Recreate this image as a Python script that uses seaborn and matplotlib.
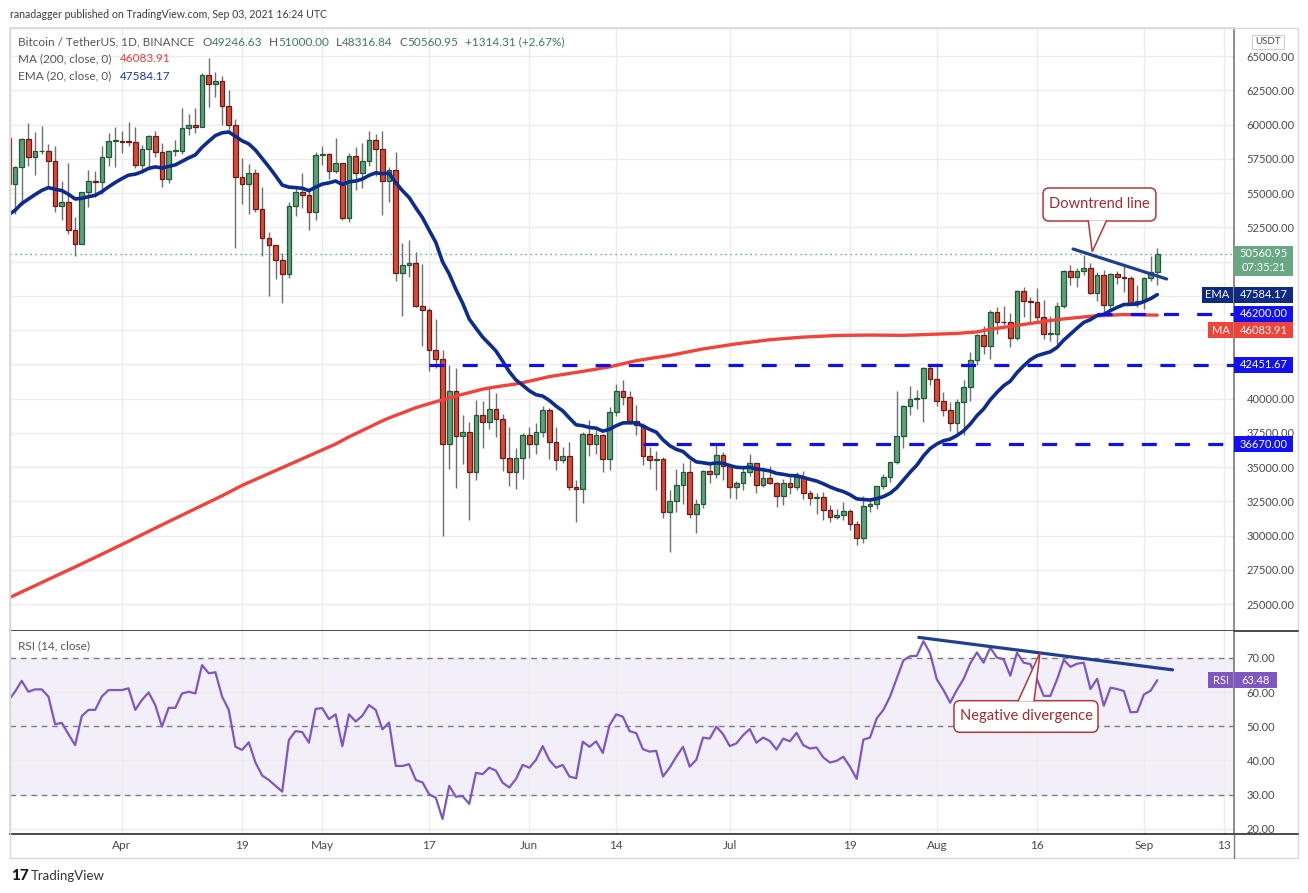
import numpy as np
import pandas as pd
import matplotlib
matplotlib.use('Agg')
import matplotlib.pyplot as plt
import seaborn as sns
from matplotlib.patches import Rectangle, FancyBboxPatch, Polygon
from matplotlib.lines import Line2D

# daily BTC/USDT candles, 2021-03-15 .. 2021-09-03
opens = [
    59000, 55630, 56900, 58910, 57650, 58030, 58100, 57350, 54080, 54340, 52300, 51300, 55070, 55860, 55780, 57630, 58770,
    58800, 58740, 58720, 57060, 58200, 59130, 57990, 56000, 58090, 58090, 59770, 59980, 59840, 63580, 62960, 63160, 61330, 60000, 56150, 55660, 56470, 53800, 51700, 51190, 50090, 49070, 54020, 55040, 54880, 53580,
    57750, 57830, 56580, 57170, 53200, 57690, 56440, 57350, 58860, 58240, 55850, 56700, 49150, 49720, 49880, 46760, 46430, 43540, 42880, 36670, 40560, 37290, 37530, 34650, 38800, 38320, 39240, 38530, 35660, 34620, 35650,
    37340, 36690, 37560, 39190, 36850, 35520, 35800, 33560, 33400, 37390, 36690, 37340, 35550, 39020, 40520, 40140, 38350, 38090, 35820, 35480, 35600, 31680, 32510, 33690, 34660, 31590, 32280, 34700, 34490, 35910,
    35040, 33510, 33800, 34670, 35290, 33690, 34220, 33860, 32880, 33810, 33510, 34260, 33090, 32730, 32820, 31880, 31380, 31520, 31780, 30840, 29790, 32140, 32290, 33580, 34290, 35380, 37270, 39470, 40000, 40020, 42230,
    41460, 39850, 39150, 38210, 39720, 40870, 42840, 44610, 43830, 46290, 45600, 45550, 44430, 47830, 47110, 47030, 45940, 44690, 44720, 46760, 49340, 48870, 49290, 49500, 47690, 48990, 46840, 49070, 48900, 48810, 46990,
    47130, 48810, 49246.63]
highs = [
    61000, 56940, 58980, 60100, 59450, 59880, 58600, 58430, 55840, 57200, 53240, 55100, 56700, 56580, 58400, 59370, 59800,
    59490, 60200, 59790, 58500, 59250, 59500, 58650, 58150, 58870, 61220, 60790, 61200, 63780, 64854, 63800, 63520, 62500, 60400, 57530, 57100, 56760, 55450, 52130, 51200, 50590, 54360, 55470, 56430, 55200, 58000,
    58450, 57920, 58980, 57200, 57940, 58360, 58650, 59500, 59300, 59520, 56870, 58000, 51370, 51560, 50700, 49800, 46640, 45800, 43550, 42450, 42200, 38830, 38270, 39920, 39800, 40840, 40410, 38880, 37900, 36400, 37500,
    37890, 38230, 39480, 39290, 37920, 36480, 36790, 34070, 37530, 38400, 37690, 37440, 39380, 41060, 41330, 40530, 39560, 38200, 36460, 36140, 35750, 33300, 34880, 35300, 35500, 32700, 34750, 35300, 36600, 36100,
    35050, 33970, 34950, 35950, 35300, 35000, 35060, 33910, 34100, 34250, 34600, 34680, 33340, 33120, 33190, 32250, 31950, 32440, 31900, 31060, 32860, 32580, 33650, 34500, 35400, 40550, 39540, 40900, 40640, 42320, 42410,
    42600, 40450, 39780, 39970, 41350, 43390, 44700, 45310, 46450, 46650, 46740, 46220, 47890, 48150, 47390, 48050, 47160, 46000, 47050, 49380, 49760, 49520, 50500, 49880, 49260, 49370, 49190, 49310, 49700, 48910, 48250,
    48900, 50420, 51000.00]
lows = [
    55000, 53500, 54120, 57000, 56280, 57820, 55450, 53650, 53000, 52000, 50430, 51250, 53950, 54690, 54900, 57000, 56870,
    57930, 58450, 56860, 56480, 56800, 57600, 55470, 55700, 57700, 57880, 59250, 59400, 59820, 61300, 62020, 60000, 59580, 51000, 54220, 53450, 53600, 50400, 47500, 48750, 47000, 48800, 53320, 53880, 52330, 53010,
    57050, 56030, 56480, 53050, 52900, 55200, 55380, 56980, 56230, 53400, 54370, 48600, 46000, 48850, 46650, 43830, 42000, 42250, 30000, 34850, 33490, 35200, 31110, 34030, 36420, 37800, 37200, 34700, 33630, 33380, 34150,
    35660, 35920, 37170, 35570, 34800, 35260, 33340, 31000, 32400, 35800, 35940, 34600, 34760, 38730, 39510, 38120, 37370, 35130, 34820, 33350, 31250, 28800, 31690, 32300, 31280, 30150, 32000, 33860, 34230, 34020,
    32710, 32700, 33320, 34360, 33130, 33530, 33770, 32080, 32260, 33000, 33330, 32660, 32200, 31600, 31130, 31020, 31170, 31100, 30410, 29280, 29480, 31710, 31950, 33400, 33880, 35210, 36400, 38800, 39200, 38310, 41000,
    39420, 38690, 37640, 37510, 37330, 39850, 42450, 43260, 42850, 44690, 45350, 43770, 44240, 45960, 45520, 45660, 44380, 44210, 43950, 46630, 48290, 48110, 49050, 47600, 47110, 46320, 46370, 48370, 47800, 46860, 46700,
    46540, 48580, 48316.84]
closes = [
    55630, 56900, 58910, 57650, 58030, 58100, 57350, 54080, 54340, 52300, 51300, 55070, 55860, 55780, 57630, 58770, 58800,
    58740, 58720, 57060, 58200, 59130, 57990, 56000, 58090, 58090, 59770, 59980, 59840, 63580, 62960, 63160, 61330, 60000, 56150, 55660, 56470, 53800, 51700, 51190, 50090, 49070, 54020, 55040, 54880, 53580, 57750,
    57830, 56580, 57170, 53200, 57690, 56440, 57350, 58860, 58240, 55850, 56700, 49150, 49720, 49880, 46760, 46430, 43540, 42880, 36670, 40560, 37290, 37530, 34650, 38800, 38320, 39240, 38530, 35660, 34620, 35650, 37340,
    36690, 37560, 39190, 36850, 35520, 35800, 33560, 33400, 37390, 36690, 37340, 35550, 39020, 40520, 40140, 38350, 38090, 35820, 35480, 35600, 31680, 32510, 33690, 34660, 31590, 32280, 34700, 34490, 35910, 35040,
    33510, 33800, 34670, 35290, 33690, 34220, 33860, 32880, 33810, 33510, 34260, 33090, 32730, 32820, 31880, 31380, 31520, 31780, 30840, 29790, 32140, 32290, 33580, 34290, 35380, 37270, 39470, 40000, 40020, 42230, 41460,
    39850, 39150, 38210, 39720, 40870, 42840, 44610, 43830, 46290, 45600, 45550, 44430, 47830, 47110, 47030, 45940, 44690, 44720, 46760, 49340, 48870, 49290, 49500, 47690, 48990, 46840, 49070, 48900, 48810, 46990, 47130,
    48810, 49246.63, 50560.95]
ema20 = [
    53400, 53733, 54226, 54552, 54883, 55189, 55395, 55270, 55181, 54907, 54564, 54612, 54731, 54831, 55097, 55447, 55766,
    56049, 56303, 56375, 56549, 56795, 56909, 56822, 56943, 57052, 57311, 57565, 57782, 58334, 58774, 59192, 59396, 59454, 59139, 58808, 58585, 58129, 57517, 56915, 56265, 55580, 55431, 55394, 55345, 55177, 55422,
    55651, 55739, 55875, 55620, 55817, 55876, 56016, 56287, 56473, 56414, 56441, 55747, 55173, 54669, 53916, 53203, 52283, 51388, 49987, 49090, 47967, 46973, 45800, 45134, 44485, 43986, 43467, 42724, 41952, 41352, 40970,
    40563, 40277, 40174, 39858, 39445, 39098, 38571, 38079, 38013, 37887, 37835, 37617, 37751, 38015, 38217, 38230, 38217, 37989, 37750, 37545, 36987, 36561, 36288, 36133, 35701, 35375, 35311, 35233, 35297, 35273,
    35105, 34981, 34951, 34983, 34860, 34799, 34710, 34536, 34467, 34376, 34365, 34244, 34100, 33978, 33778, 33550, 33357, 33207, 32982, 32678, 32627, 32595, 32689, 32841, 33083, 33482, 34052, 34618, 35132, 35808, 36346,
    36680, 36915, 37038, 37293, 37634, 38130, 38747, 39231, 39903, 40445, 40931, 41264, 41889, 42386, 42828, 43124, 43273, 43411, 43730, 44264, 44702, 45139, 45554, 45757, 46065, 46139, 46418, 46654, 46859, 46871, 46896,
    47078, 47285, 47584.17]
ma200 = [
    25430, 25655, 25885, 26110, 26340, 26570, 26800, 27025, 27250, 27475, 27705, 27940, 28170, 28400, 28635, 28870, 29105,
    29340, 29580, 29820, 30060, 30300, 30540, 30780, 31015, 31250, 31485, 31720, 31950, 32185, 32425, 32665, 32900, 33150, 33405, 33660, 33875, 34090, 34305, 34520, 34735, 34950, 35165, 35380, 35595, 35810, 36025,
    36240, 36460, 36680, 36940, 37200, 37435, 37670, 37905, 38140, 38370, 38580, 38770, 38950, 39140, 39330, 39480, 39625, 39765, 39905, 40050, 40180, 40305, 40430, 40555, 40680, 40770, 40850, 40925, 40995, 41060, 41160,
    41265, 41375, 41490, 41600, 41675, 41750, 41830, 41905, 41980, 42060, 42145, 42230, 42310, 42425, 42535, 42650, 42760, 42840, 42915, 42995, 43070, 43140, 43235, 43330, 43430, 43525, 43620, 43695, 43770, 43845,
    43920, 43990, 44050, 44110, 44170, 44230, 44290, 44330, 44370, 44405, 44445, 44480, 44505, 44530, 44555, 44580, 44600, 44610, 44615, 44620, 44625, 44630, 44625, 44620, 44615, 44612, 44610, 44625, 44645, 44665, 44685,
    44700, 44715, 44730, 44750, 44785, 44820, 44860, 44955, 45050, 45125, 45195, 45265, 45340, 45410, 45480, 45550, 45620, 45690, 45760, 45810, 45860, 45905, 45955, 46000, 46030, 46055, 46080, 46105, 46130, 46120, 46110,
    46100, 46090, 46083.91]
rsi14 = [
    57.5, 60.1, 63.3, 60.1, 60.8, 60.8, 58.7, 50.6, 51.0, 47.7, 44.5, 53.0, 54.8, 54.8, 58.7, 60.6, 60.6,
    60.6, 61.1, 54.8, 57.7, 59.9, 56.2, 49.9, 55.4, 55.4, 59.6, 60.1, 59.6, 67.9, 65.5, 65.8, 58.7, 54.8, 44.0, 43.1, 45.3, 39.4, 35.6, 34.3, 32.6, 30.9, 46.0, 48.6, 48.3, 45.2, 55.1,
    55.3, 52.1, 53.5, 44.2, 53.5, 51.4, 53.1, 56.2, 54.8, 49.1, 51.1, 38.4, 38.4, 38.9, 34.3, 33.6, 30.1, 29.1, 22.9, 32.6, 29.4, 29.6, 27.3, 36.4, 36.0, 37.9, 37.0, 33.5, 32.1, 34.6, 38.7,
    37.9, 40.2, 44.2, 40.1, 37.9, 38.7, 35.3, 34.8, 45.5, 44.0, 45.6, 42.2, 50.3, 53.5, 52.8, 48.6, 48.0, 43.3, 42.6, 42.8, 35.3, 37.9, 41.1, 44.0, 38.2, 40.2, 46.7, 46.4, 49.9, 47.7,
    44.2, 45.0, 47.4, 49.2, 45.2, 46.7, 45.7, 43.2, 46.4, 45.6, 48.1, 44.5, 43.5, 43.8, 40.9, 39.4, 39.9, 41.1, 38.2, 34.6, 46.1, 46.7, 52.3, 54.8, 58.7, 64.0, 69.3, 70.5, 70.6, 74.9, 71.3,
    63.7, 60.6, 56.9, 60.6, 63.8, 68.4, 71.6, 68.6, 73.0, 70.1, 69.6, 64.8, 71.5, 68.6, 68.2, 63.7, 58.9, 58.9, 63.7, 69.4, 67.4, 68.3, 68.6, 60.9, 63.9, 56.0, 61.3, 60.9, 60.3, 54.1, 54.2,
    59.3, 60.4, 63.48]

levels = [46200.00, 42451.67, 36670.00]
level_starts = ['2021-08-25', '2021-05-17', '2021-06-18']
tick_dates = ['2021-04-01', '2021-04-19', '2021-05-01', '2021-05-17', '2021-06-01', '2021-06-14',
              '2021-07-01', '2021-07-19', '2021-08-01', '2021-08-16', '2021-09-01', '2021-09-13']
price_ticks = [25000, 27500, 30000, 32500, 35000, 37500, 40000, 42500, 45000, 47500, 50000,
               52500, 55000, 57500, 60000, 62500, 65000]
hidden_price_ticks = [42500, 45000, 47500, 50000]   # covered by the axis tags
rsi_ticks = [20, 30, 40, 50, 60, 70]
price_trend_x, price_trend_y = [159.4, 173.4], [50913, 48723]
rsi_trend_x, rsi_trend_y = [136.3, 174.3], [76.0, 66.5]

dates = pd.date_range('2021-03-15', periods=len(closes), freq='D')
df = pd.DataFrame({'pos': np.arange(len(dates)), 'open': opens, 'high': highs, 'low': lows,
                   'close': closes, 'ema': ema20, 'ma': ma200, 'rsi': rsi14})

sns.set_theme(style='white')
plt.rcParams['font.family'] = ['Lato', 'DejaVu Sans']

W, H = 1308, 893
fig = plt.figure(figsize=(W / 100, H / 100), dpi=100)
fx = lambda px: px / W
fy = lambda py: 1 - py / H

ax_p = fig.add_axes([fx(10), fy(631), fx(1234) - fx(10), fy(28) - fy(631)])
ax_r = fig.add_axes([fx(10), fy(834), fx(1234) - fx(10), fy(631) - fy(834)], sharex=ax_p)

XMAX = 183.49
ax_p.set_xlim(0.25, XMAX)
ax_p.set_ylim(23030, 67044)
ax_r.set_ylim(18.5, 77.87)

GRID = '#ececec'
TXT = '#4a4a4a'
for ax in (ax_p, ax_r):
    ax.grid(True, color=GRID, lw=1)
    ax.set_axisbelow(True)
    ax.yaxis.tick_right()
    ax.tick_params(axis='y', length=0, pad=9, labelsize=8, colors=TXT)
    ax.tick_params(axis='x', length=0, pad=4, labelsize=8.5, colors=TXT)
    ax.spines['left'].set_color('#dcdcdc')
    ax.spines['right'].set_color('#7d7d7d')
    ax.spines['bottom'].set_color('#4a4a4a')
    ax.spines['bottom'].set_linewidth(1.4)
ax_p.spines['top'].set_color('#dcdcdc')
ax_r.spines['top'].set_visible(False)

tick_pos = [(pd.Timestamp(d) - dates[0]).days for d in tick_dates]
tick_lab = [pd.Timestamp(d).strftime('%b') if pd.Timestamp(d).day == 1 else str(pd.Timestamp(d).day)
            for d in tick_dates]
ax_r.set_xticks(tick_pos)
ax_r.set_xticklabels(tick_lab)
plt.setp(ax_p.get_xticklabels(), visible=False)

ax_p.set_yticks(price_ticks)
ax_p.set_yticklabels(['' if v in hidden_price_ticks else f'{v:.2f}' for v in price_ticks])
ax_r.set_yticks(rsi_ticks)
ax_r.set_yticklabels([f'{v:.2f}' for v in rsi_ticks])

# candles
up = df['close'] >= df['open']
body_b = df[['open', 'close']].min(axis=1)
body_h = (df['close'] - df['open']).abs().clip(lower=70)
ax_p.vlines(df['pos'], df['low'], df['high'], color='#6f6f6f', lw=1, zorder=2)
ax_p.bar(df['pos'][up], body_h[up], bottom=body_b[up], width=0.7,
         color='#5f9f7a', edgecolor='#1f5a38', linewidth=0.9, zorder=3)
ax_p.bar(df['pos'][~up], body_h[~up], bottom=body_b[~up], width=0.7,
         color='#d64c3b', edgecolor='#6e1a14', linewidth=0.9, zorder=3)

sns.lineplot(x=df['pos'], y=df['ma'], ax=ax_p, color='#f2433a', lw=2.4, zorder=4)
sns.lineplot(x=df['pos'], y=df['ema'], ax=ax_p, color='#0d2c8f', lw=2.6, zorder=5)
ax_p.set_xlabel('')
ax_p.set_ylabel('')

ax_p.axhline(df['close'].iloc[-1], color='#2e9e5e', lw=0.9, ls=(0, (1, 3)), zorder=4)
for lvl, st in zip(levels, level_starts):
    s = (pd.Timestamp(st) - dates[0]).days
    ax_p.hlines(lvl, s, XMAX, colors='#0f0ff0', lw=2.3, linestyles=(0, (4.7, 5.7)), zorder=6)
ax_p.plot(price_trend_x, price_trend_y, color='#1f3f8f', lw=2.3, zorder=7)

# RSI pane
ax_r.axhspan(30, 70, color='#7e57c2', alpha=0.09, lw=0, zorder=0)
for lv in (30, 50, 70):
    ax_r.axhline(lv, color='#7b7b86', lw=1, ls=(0, (4, 3.5)), zorder=1)
sns.lineplot(x=df['pos'], y=df['rsi'], ax=ax_r, color='#7e57c2', lw=1.6, zorder=4)
ax_r.plot(rsi_trend_x, rsi_trend_y, color='#1f3f8f', lw=2.3, zorder=5)
ax_r.set_xlabel('')
ax_r.set_ylabel('')


def callout(ax, box, base, tip, text, aspect, pointer_down):
    x0, y0, x1, y1 = box
    ax.add_patch(FancyBboxPatch((x0, y0), x1 - x0, y1 - y0,
                                boxstyle='round,pad=0,rounding_size=0.9', mutation_aspect=aspect,
                                fc='white', ec='#b2373a', lw=1.1, zorder=9))
    yb = y0 + 0.02 * (y1 - y0) if pointer_down else y1 - 0.02 * (y1 - y0)
    ax.add_patch(Polygon([(base[0], yb), tip, (base[1], yb)], closed=False,
                         fc='white', ec='#b2373a', lw=1.1, zorder=10))
    ax.text((x0 + x1) / 2, (y0 + y1) / 2, text, ha='center', va='center',
            color='#a8282d', fontsize=10.5, zorder=11)


callout(ax_p, (154.9, 52957, 171.8, 55365), (161.67, 164.43), (162.27, 50716),
        'Downtrend line', 487.6, True)
callout(ax_r, (141.57, 48.25, 163.13, 57.49), (151.15, 153.55), (154.45, 71.52),
        'Negative divergence', 1.953, False)


def tag(ax, y, text, fc, per_px, x0=1.0, w_px=59, h_px=16):
    tr = ax.get_yaxis_transform()
    hh = h_px * per_px
    w = w_px / 1224
    ax.add_patch(Rectangle((x0, y - hh / 2), w, hh, transform=tr, fc=fc, ec='none',
                           clip_on=False, zorder=20))
    ax.text(x0 + w / 2, y, text, transform=tr, ha='center', va='center', color='white',
            fontsize=8, zorder=21, clip_on=False)


PPX = 72.99
ma_tag_y = 46200.00 - 16.5 * PPX   # stacked below the 46200 tag, as TradingView does
tag(ax_p, 47584.17, '47584.17', '#0e2a82', PPX)
tag(ax_p, 47584.17, 'EMA', '#0e2a82', PPX, x0=1192 / 1224, w_px=31)
tag(ax_p, 46200.00, '46200.00', '#1212f0', PPX)
tag(ax_p, ma_tag_y, '46083.91', '#f0433a', PPX)
tag(ax_p, ma_tag_y, 'MA', '#f0433a', PPX, x0=1198 / 1224, w_px=25)
tag(ax_p, 42451.67, '42451.67', '#1212f0', PPX)
tag(ax_p, 36670.00, '36670.00', '#1212f0', PPX)
# current price tag with countdown
last = df['close'].iloc[-1]
tr = ax_p.get_yaxis_transform()
ax_p.add_patch(Rectangle((1.0, last - 22 * PPX), 59 / 1224, 30 * PPX, transform=tr,
                         fc='#6aa784', ec='none', clip_on=False, zorder=20))
ax_p.text(1.0 + 29.5 / 1224, last, f'{last:.2f}', transform=tr,
          ha='center', va='center', color='white', fontsize=8, zorder=21, clip_on=False)
ax_p.text(1.0 + 29.5 / 1224, last - 13.5 * PPX, '07:35:21', transform=tr,
          ha='center', va='center', color='white', fontsize=8, zorder=21, clip_on=False)

tag(ax_r, 63.48, '63.48', '#7e57c2', 0.2924, w_px=43)
tag(ax_r, 63.48, 'RSI', '#7e57c2', 0.2924, x0=1198 / 1224, w_px=25)


def rich(x, y, parts, size=8.5):
    t = fig.text(x, y, parts[0][0], color=parts[0][1], fontsize=size, va='center')
    for s, c, gap in parts[1:]:
        t = ax_p.annotate(s, xy=(1, 0), xycoords=t, xytext=(gap, 0), textcoords='offset points',
                          color=c, fontsize=size, va='bottom', ha='left', annotation_clip=False)


GRAY = '#555555'
GREEN = '#3a7d56'
fig.text(fx(10), fy(15), 'ranadagger published on TradingView.com, Sep 03, 2021 16:24 UTC',
         color='#3c3c3c', fontsize=7.6, va='center')
rich(fx(18), fy(42), [('Bitcoin / TetherUS, 1D, BINANCE', GRAY),
                      ('O', GRAY, 6), ('49246.63', GREEN, 0),
                      ('H', GRAY, 5), ('51000.00', GREEN, 0),
                      ('L', GRAY, 5), ('48316.84', GREEN, 0),
                      ('C', GRAY, 5), ('50560.95', GREEN, 0),
                      ('+1314.31 (+2.67%)', GREEN, 5)])
rich(fx(18), fy(59), [('MA (200, close, 0)', GRAY), ('46083.91', '#f23d3d', 6)])
rich(fx(18), fy(76), [('EMA (20, close, 0)', GRAY), ('47584.17', '#1a3a9a', 6)])
rich(fx(18), fy(646), [('RSI (14, close)', GRAY), ('63.48', '#7e57c2', 6)])

fig.text(fx(1268), fy(42), 'USDT', fontsize=7, color=TXT, ha='center', va='center',
         bbox=dict(boxstyle='square,pad=0.3', fc='white', ec='#cfcfcf', lw=0.8))

# outer frame
frame = dict(transform=fig.transFigure, color='#d9d9d9', lw=1)
fig.add_artist(Line2D([fx(10), fx(1298)], [fy(28), fy(28)], **frame))
fig.add_artist(Line2D([fx(10), fx(1298)], [fy(858), fy(858)], **frame))
fig.add_artist(Line2D([fx(10), fx(10)], [fy(28), fy(858)], **frame))
fig.add_artist(Line2D([fx(1298), fx(1298)], [fy(28), fy(858)], **frame))
fig.add_artist(Line2D([fx(1234), fx(1234)], [fy(834), fy(858)], transform=fig.transFigure,
                      color='#7d7d7d', lw=1))
fig.add_artist(Line2D([fx(1234), fx(1298)], [fy(834), fy(834)], transform=fig.transFigure,
                      color='#4a4a4a', lw=1.4))
fig.add_artist(Line2D([fx(1234), fx(1298)], [fy(631), fy(631)], transform=fig.transFigure,
                      color='#4a4a4a', lw=1.4))

fig.text(fx(11), fy(876), '17', fontsize=11, fontweight='black', color='#131722', va='center')
fig.text(fx(31), fy(876), 'TradingView', fontsize=9.5, color='#333333', va='center')

fig.savefig('out.png', dpi=100)
